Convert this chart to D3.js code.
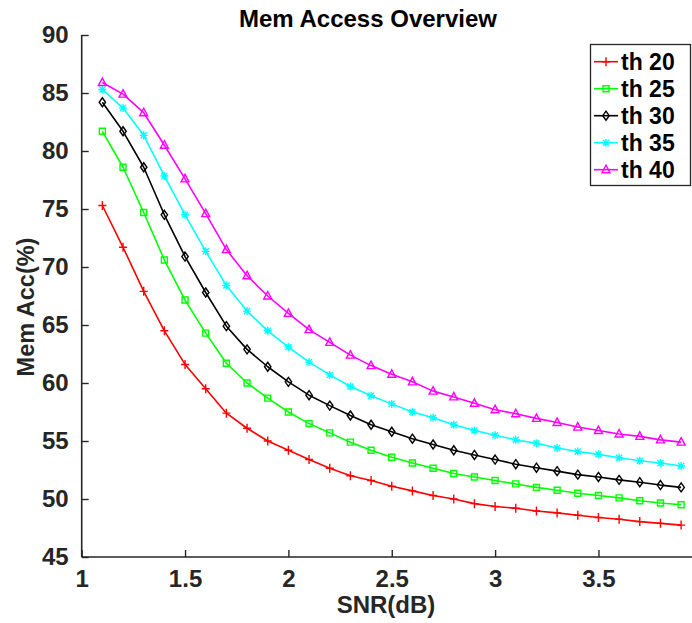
<!DOCTYPE html>
<html>
<head>
<meta charset="utf-8">
<script src="https://cdn.jsdelivr.net/npm/d3@7"></script>
<style>
  html, body { margin: 0; padding: 0; background: #fff; }
  svg { display: block; font-family: "Liberation Sans", Arial, Helvetica, sans-serif; }
</style>
</head>
<body>
<svg id="chart" width="692" height="623"></svg>
<script>
// SNR sweep (dB)
const snr = [1.1, 1.2, 1.3, 1.4, 1.5, 1.6, 1.7, 1.8, 1.9, 2.0,
             2.1, 2.2, 2.3, 2.4, 2.5, 2.6, 2.7, 2.8, 2.9, 3.0,
             3.1, 3.2, 3.3, 3.4, 3.5, 3.6, 3.7, 3.8, 3.9];

// Memory access (%) per threshold
const th20 = [75.3, 71.7, 67.9, 64.5, 61.6, 59.5, 57.4, 56.1, 55.0, 54.2,
              53.4, 52.65, 52.0, 51.6, 51.1, 50.7, 50.3, 50.0, 49.6, 49.35,
              49.2, 48.97, 48.8, 48.6, 48.4, 48.25, 48.05, 47.9, 47.75];
const th25 = [81.7, 78.6, 74.7, 70.6, 67.15, 64.3, 61.7, 60.0, 58.7, 57.5,
              56.5, 55.7, 54.9, 54.2, 53.6, 53.1, 52.65, 52.2, 51.9, 51.6,
              51.3, 51.0, 50.75, 50.5, 50.3, 50.1, 49.85, 49.65, 49.5];
const th30 = [84.2, 81.7, 78.6, 74.5, 70.9, 67.8, 64.9, 62.9, 61.4, 60.1,
              58.95, 58.05, 57.2, 56.4, 55.8, 55.2, 54.7, 54.2, 53.8, 53.4,
              53.0, 52.7, 52.4, 52.1, 51.9, 51.65, 51.45, 51.2, 51.0];
const th35 = [85.3, 83.7, 81.35, 77.85, 74.5, 71.35, 68.4, 66.2, 64.5, 63.1,
              61.8, 60.7, 59.7, 58.9, 58.2, 57.5, 57.0, 56.4, 55.9, 55.5,
              55.1, 54.8, 54.4, 54.1, 53.85, 53.55, 53.3, 53.1, 52.85];
const th40 = [85.9, 84.9, 83.3, 80.5, 77.6, 74.6, 71.5, 69.25, 67.5, 66.0,
              64.6, 63.5, 62.4, 61.5, 60.75, 60.1, 59.3, 58.8, 58.25, 57.7,
              57.35, 56.95, 56.6, 56.2, 55.9, 55.6, 55.4, 55.1, 54.9];

const seriesNames = ["th 20", "th 25", "th 30", "th 35", "th 40"];
const seriesValues = [th20, th25, th30, th35, th40];

const xTicks = [1, 1.5, 2, 2.5, 3, 3.5];
const yTicks = [45, 50, 55, 60, 65, 70, 75, 80, 85, 90];

const colors = ["#ff0000", "#00ff00", "#000000", "#00ffff", "#ff00ff"];
const markerKinds = ["plus", "square", "diamond", "asterisk", "triangle"];

const svg = d3.select("#chart");
const axisColor = "#262626";

const x = d3.scaleLinear().domain([1, 4]).range([81.7, 701.8]);
const y = d3.scaleLinear().domain([45, 90]).range([557, 35]);

// axes (ticks point inward)
const xAxis = d3.axisBottom(x).tickValues(xTicks).tickSize(-7).tickPadding(13)
  .tickFormat(d3.format("~g"));
const yAxis = d3.axisLeft(y).tickValues(yTicks).tickSize(-7).tickPadding(13);

const gx = svg.append("g").attr("transform", `translate(0,${y(45)})`).call(xAxis);
const gy = svg.append("g").attr("transform", `translate(${x(1)},0)`).call(yAxis);

[gx, gy].forEach(g => {
  g.select(".domain").attr("stroke", axisColor).attr("stroke-width", 1.6);
  g.selectAll(".tick line").attr("stroke", axisColor).attr("stroke-width", 1.4);
  g.selectAll(".tick text").attr("fill", axisColor)
    .style("font-size", "24px").style("font-weight", "bold")
    .style("font-family", "'Liberation Sans', Arial, sans-serif");
});
// plain axis lines without end caps
gx.select(".domain").attr("d", `M${x(1)},0H${x(4)}`);
gy.select(".domain").attr("d", `M0,${y(45)}V${y(90)}`);

// series lines
const line = d3.line().x((d, i) => x(snr[i])).y(d => y(d));

function markerPath(kind) {
  switch (kind) {
    case "plus": return "M-4,0H4M0,-4.5V4.5";
    case "square": return "M-3,-3H3V3H-3Z";
    case "diamond": return "M0,-4.5L3.2,0L0,4.5L-3.2,0Z";
    case "asterisk": return "M-4,0H4M0,-4V4M-3,-3L3,3M-3,3L3,-3";
    case "triangle": return "M0,-4.5L4,3L-4,3Z";
  }
}

seriesValues.forEach((vals, k) => {
  const g = svg.append("g");
  g.append("path").datum(vals)
    .attr("d", line)
    .attr("fill", "none")
    .attr("stroke", colors[k])
    .attr("stroke-width", 1.6)
    .attr("stroke-linejoin", "round");
  g.selectAll("path.mk").data(vals).enter().append("path")
    .attr("class", "mk")
    .attr("d", markerPath(markerKinds[k]))
    .attr("transform", (d, i) => `translate(${x(snr[i])},${y(d)})`)
    .attr("fill", "none")
    .attr("stroke", colors[k])
    .attr("stroke-width", 1.4);
});

// titles
svg.append("text").attr("x", 368).attr("y", 27).attr("text-anchor", "middle")
  .style("font-size", "24px").style("font-weight", "bold").attr("fill", "#000")
  .text("Mem Access Overview");
svg.append("text").attr("x", 386).attr("y", 613).attr("text-anchor", "middle")
  .style("font-size", "24px").style("font-weight", "bold").attr("fill", axisColor)
  .text("SNR(dB)");
svg.append("text").attr("transform", "translate(34,307) rotate(-90)")
  .attr("text-anchor", "middle")
  .style("font-size", "23.5px").style("font-weight", "bold").attr("fill", axisColor)
  .text("Mem Acc(%)");

// legend
const lg = svg.append("g");
lg.append("rect").attr("x", 590.5).attr("y", 44.5).attr("width", 100).attr("height", 141)
  .attr("fill", "#fff").attr("stroke", axisColor).attr("stroke-width", 1.3);
seriesNames.forEach((name, k) => {
  const cy = 61.7 + k * 27;
  lg.append("line").attr("x1", 594).attr("x2", 618).attr("y1", cy).attr("y2", cy)
    .attr("stroke", colors[k]).attr("stroke-width", 1.6);
  lg.append("path").attr("d", markerPath(markerKinds[k]))
    .attr("transform", `translate(606,${cy})`)
    .attr("fill", "none").attr("stroke", colors[k]).attr("stroke-width", 1.4);
  lg.append("text").attr("x", 621).attr("y", cy + 8)
    .style("font-size", "23px").style("font-weight", "bold").attr("fill", "#000")
    .text(name);
});
</script>
</body>
</html>
